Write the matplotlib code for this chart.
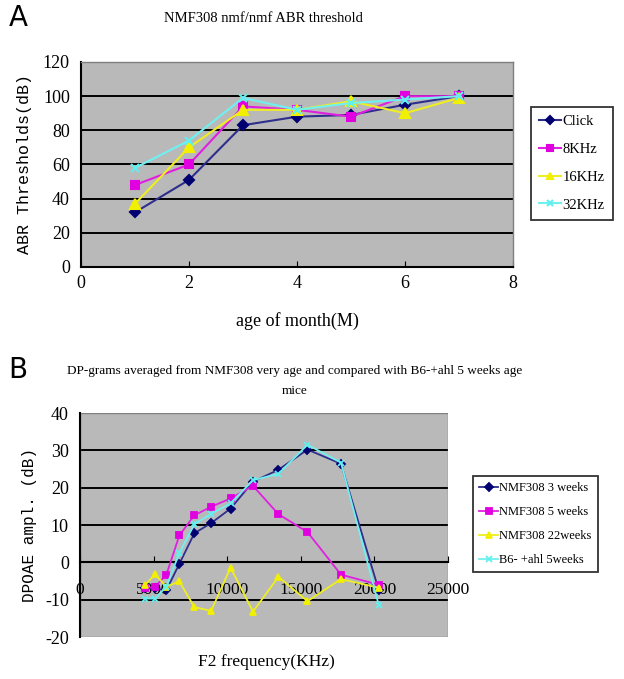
import numpy as np
import matplotlib
matplotlib.use("Agg")
import matplotlib.pyplot as plt
from matplotlib.patches import Rectangle

plt.rcParams["axes.unicode_minus"] = False

# ----- Panel A: ABR thresholds by age -----
ages = [1, 2, 3, 4, 5, 6, 7]
click = [32, 51, 83, 88, 89, 95, 100]
khz8 = [48, 60, 94, 92, 88, 100, 100]
khz16 = [37, 70, 92, 92, 97, 90, 99]
khz32 = [58, 74, 99, 92, 96, 98, 100]
abr_labels = ["Click", "8KHz", "16KHz", "32KHz"]

# ----- Panel B: DP-grams -----
f2_freq = [4430, 5100, 5860, 6750, 7770, 8910, 10230, 11750, 13480, 15455, 17730, 20300]
wk3 = [-7, -7, -7.5, -0.4, 7.8, 10.5, 14.4, 21.6, 24.8, 30.2, 26.4, -7.5]
wk5 = [-7, -6.5, -3.4, 7.2, 12.6, 14.9, 17.1, 20.5, 12.9, 8.1, -3.3, -6]
wk22 = [-6, -3.2, -6.5, -5.1, -12, -13, -1.4, -13.2, -3.9, -10.4, -4.5, -6.8]
b6 = [-9.7, -9.7, -6.5, 2.5, 10.2, 13, 15.8, 22, 23.7, 31.5, 26.7, -11.5]
dp_labels = ["NMF308 3 weeks", "NMF308 5 weeks", "NMF308 22weeks", "B6- +ahl 5weeks"]

# series styles (Excel-like)
line_cols = ["#2e2e8c", "#e020e0", "#eeee22", "#70f0f0"]
mark_cols = ["#000070", "#e000e0", "#f0f000", "#60f0f0"]
markers = ["D", "s", "^", "x"]

W, H = 624, 679
fig = plt.figure(figsize=(W / 100, H / 100), dpi=100)
serif = "Liberation Serif"
mono = "Liberation Mono"
grey = "#b9b9b9"

# ================= Panel A =================
axA = fig.add_axes([81 / W, 1 - 267 / H, 432 / W, 205 / H])
axA.set_facecolor(grey)
a_sizes = [5, 6, 6.5, 6]
for i, ys in enumerate([click, khz8, khz16, khz32]):
    axA.plot(ages, ys, color=line_cols[i], lw=1.5, marker=markers[i], ms=a_sizes[i],
             mfc=mark_cols[i], mec=mark_cols[i], mew=1.5, label=abr_labels[i], zorder=3 + i)
axA.set_xlim(0, 8)
axA.set_ylim(0, 120)
axA.set_xticks(np.arange(0, 9, 2))
axA.set_yticks(np.arange(0, 121, 20))
axA.yaxis.grid(True, color="black", lw=1.4)
axA.set_axisbelow(True)
for gl, v in zip(axA.get_ygridlines(), axA.get_yticks()):
    if v in (0, 120):
        gl.set_visible(False)
for s in ["top", "right"]:
    axA.spines[s].set_color("#808080")
    axA.spines[s].set_linewidth(1)
for s in ["left", "bottom"]:
    axA.spines[s].set_color("black")
    axA.spines[s].set_linewidth(1.5)
axA.tick_params(axis="x", direction="in", length=4, pad=6, labelsize=13)
axA.tick_params(axis="y", direction="out", length=0, pad=8, labelsize=13)
for t in axA.get_xticklabels() + axA.get_yticklabels():
    t.set_fontfamily(serif)
axA.set_xlabel("age of month(M)", fontfamily=serif, fontsize=13, labelpad=14)
axA.set_ylabel("ABR Thresholds(dB)", fontfamily=mono, fontsize=12, labelpad=8)
legA = fig.legend(loc="upper left", bbox_to_anchor=(531 / W, 1 - 107 / H),
                  prop={"family": serif, "size": 10.5}, frameon=True, fancybox=False,
                  edgecolor="black", handlelength=1.5, handletextpad=0.1,
                  labelspacing=1.0, borderpad=0.55, borderaxespad=0)
legA.get_frame().set_linewidth(1.3)
for h in legA.get_lines():
    h.set_markersize(4.5)

fig.text(263 / W, 1 - 18 / H, "NMF308 nmf/nmf ABR threshold", fontfamily=serif,
         fontsize=10.5, ha="center", va="center")
fig.text(18 / W, 1 - 18 / H, "A", fontsize=20, ha="center", va="center", fontfamily="DejaVu Sans")

# ================= Panel B =================
axB = fig.add_axes([80 / W, 1 - 637 / H, 368 / W, 224 / H])
axB.set_facecolor(grey)
b_sizes = [4, 4.5, 5, 4.5]
hB = []
for i, ys in enumerate([wk3, wk5, wk22, b6]):
    ln, = axB.plot(f2_freq, ys, color=line_cols[i], lw=1.3, marker=markers[i], ms=b_sizes[i],
                   mfc=mark_cols[i], mec=mark_cols[i], mew=1.3, label=dp_labels[i], zorder=3 + i)
    hB.append(ln)
axB.set_xlim(0, 25000)
axB.set_ylim(-20, 40)
axB.set_xticks(np.arange(0, 25001, 5000))
axB.set_yticks(np.arange(-20, 41, 10))
axB.yaxis.grid(True, color="black", lw=1.4)
axB.set_axisbelow(True)
for gl, v in zip(axB.get_ygridlines(), axB.get_yticks()):
    if v in (-20, 40):
        gl.set_visible(False)
for s in ["top", "right"]:
    axB.spines[s].set_visible(False)
axB.add_patch(Rectangle((0, 0), 1, 1, transform=axB.transAxes, fill=False,
                        edgecolor="#808080", lw=1, zorder=1))
axB.spines["bottom"].set_position(("data", 0))
axB.spines["bottom"].set_color("black")
axB.spines["bottom"].set_linewidth(1.5)
axB.spines["left"].set_color("black")
axB.spines["left"].set_linewidth(1.5)
axB.tick_params(axis="x", direction="in", length=4, pad=14, labelsize=12.5)
axB.tick_params(axis="y", direction="out", length=0, pad=8, labelsize=13)
for t in axB.get_xticklabels() + axB.get_yticklabels():
    t.set_fontfamily(serif)
axB.set_ylabel("DPOAE ampl. (dB)", fontfamily=mono, fontsize=11.5, labelpad=6)
fig.text(266 / W, 1 - 662 / H, "F2 frequency(KHz)", fontfamily=serif, fontsize=12.5,
         ha="center", va="center")
legB = fig.legend(handles=hB, loc="upper left", bbox_to_anchor=(473 / W, 1 - 476 / H),
                  prop={"family": serif, "size": 9}, frameon=True, fancybox=False,
                  edgecolor="black", handlelength=1.5, handletextpad=0.1,
                  labelspacing=0.95, borderpad=0.5, borderaxespad=0)
legB.get_frame().set_linewidth(1.3)

fig.text(295 / W, 1 - 381 / H,
         "DP-grams averaged from NMF308 very age and compared with B6-+ahl 5 weeks age\nmice",
         fontfamily=serif, fontsize=9.5, ha="center", va="center", linespacing=1.9)
fig.text(18 / W, 1 - 370 / H, "B", fontsize=20, ha="center", va="center", fontfamily="DejaVu Sans")

fig.savefig("out.png", dpi=100)
